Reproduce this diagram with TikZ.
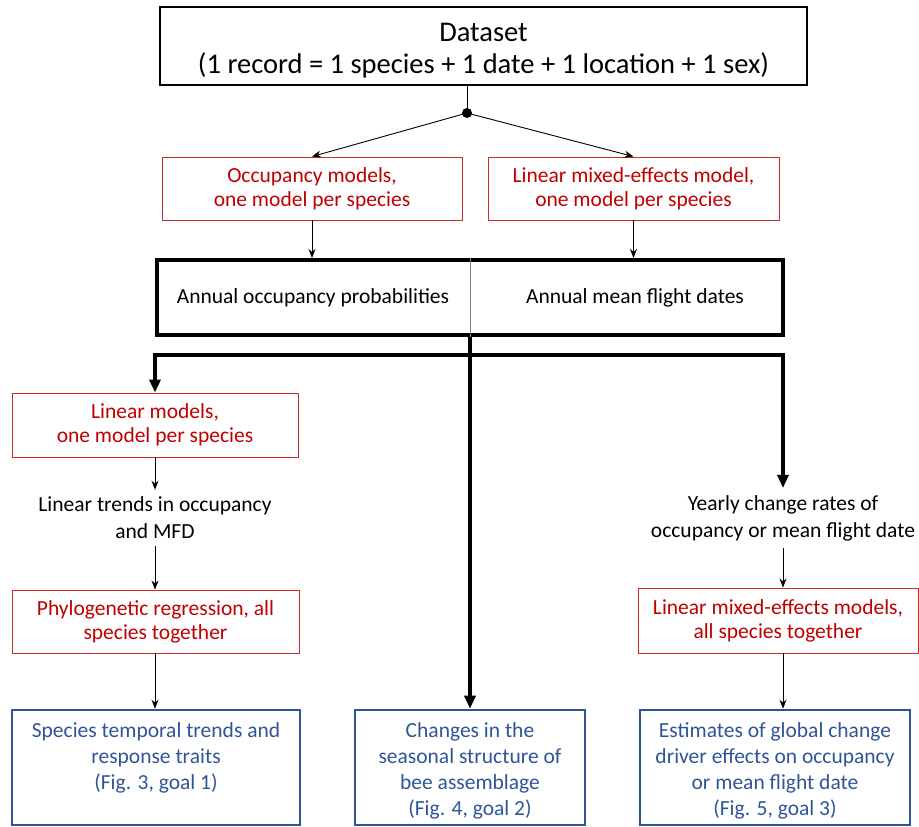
\documentclass[tikz,border=0pt]{standalone}
\usepackage{fontspec}
\setmainfont{Carlito}
\usetikzlibrary{arrows.meta}
\definecolor{myred}{HTML}{C00000}
\definecolor{boxred}{HTML}{D02B2B}
\definecolor{myblue}{HTML}{2F5597}
\begin{document}
\begin{tikzpicture}[x=1pt,y=-1pt,
  redbox/.style={draw=boxred, line width=0.9pt, text=myred, align=center,
    font=\fontsize{21.5}{24}\selectfont, inner sep=0pt},
  plain/.style={align=center, font=\fontsize{21.5}{27}\selectfont, inner sep=7pt},
  bluebox/.style={draw=myblue, line width=2.6pt, inner sep=0pt, minimum height=115pt},
  bluetext/.style={text=myblue, align=center, font=\fontsize{21.5}{26}\selectfont, inner sep=0pt, anchor=north},
  thinarr/.style={line width=0.9pt, -{Stealth[length=9pt,width=7pt]}},
  thickarr/.style={line width=3.6pt, -{Triangle[length=13pt,width=11pt]}},
  thickline/.style={line width=3.6pt}]
\useasboundingbox (0,0) rectangle (919,827);
% top
\node[draw, line width=1.2pt, minimum width=647pt, minimum height=78pt, inner sep=0pt] (data) at (483.5,46) {};
\node[align=center, font=\fontsize{28.5}{32}\selectfont, inner sep=0pt] (datat) at (483.5,51) {Dataset\\(1 record = 1 species + 1 date + 1 location + 1 sex)};
\coordinate (dot) at (467,113);
\fill (dot) circle (5pt);
\node[redbox, minimum width=300pt, minimum height=63pt] (occ) at (312,188.5) {Occupancy models,\\one model per species};
\node[redbox, minimum width=291pt, minimum height=63pt] (lme) at (633.5,188.5) {Linear mixed-effects model,\\one model per species};
\draw[line width=1pt] (data.south -| dot) -- (dot);
\draw[thinarr] (dot) -- (occ.north);
\draw[thinarr] (dot) -- (lme.north);
% annual box
\node[draw, line width=4pt, minimum width=626pt, minimum height=75pt, inner sep=0pt] (annual) at (470,297.5) {};
\draw[gray, line width=0.8pt] (annual.north) -- (annual.south);
\node[font=\fontsize{21.5}{24}\selectfont] (aop) at (313,298) {Annual occupancy probabilities};
\node[font=\fontsize{21.5}{24}\selectfont] (amfd) at (635,298) {Annual mean flight dates};
\draw[thinarr] (occ.south) -- (occ.south |- annual.north);
\draw[thinarr] (lme.south) -- (lme.south |- annual.north);
% left column
\node[redbox, minimum width=286pt, minimum height=64pt] (lm) at (155,425) {Linear models,\\one model per species};
\node[plain] (trend) at (155,518) {Linear trends in occupancy\\and MFD};
\node[redbox, minimum width=287pt, minimum height=63pt] (phylo) at (155.5,621.5) {Phylogenetic regression, all\\species together};
\node[bluebox, minimum width=288pt] (b1) at (156,767.5) {};
\node[bluetext] (b1t) at (156,722) {Species temporal trends and\\response traits\\(Fig. 3, goal 1)};
% middle
\node[bluebox, minimum width=230pt] (b2) at (470,767.5) {};
\node[bluetext] (b2t) at (470,722) {Changes in the\\seasonal structure of\\bee assemblage\\(Fig. 4, goal 2)};
% right column
\node[plain] (yearly) at (783,518) {Yearly change rates of\\occupancy or mean flight date};
\node[redbox, minimum width=280pt, minimum height=65pt] (lmeall) at (778,620.5) {Linear mixed-effects models,\\all species together};
\node[bluebox, minimum width=270pt] (b3) at (775,767.5) {};
\node[bluetext] (b3t) at (775,722) {Estimates of global change\\driver effects on occupancy\\or mean flight date\\(Fig. 5, goal 3)};
% thick connectors
\coordinate (j) at (470,355);
\draw[thickline] (annual.south) -- (j);
\draw[thickarr] (j) -| (lm.north);
\draw[thickarr] (j) -| (yearly.north);
\draw[thickarr] (j) -- (b2.north);
% thin arrows
\draw[thinarr] (lm.south) -- (trend.north);
\draw[thinarr] (trend.south) -- (trend.south |- phylo.north);
\draw[thinarr] (trend.south |- phylo.south) -- (trend.south |- b1.north);
\draw[thinarr] (yearly.south) -- (yearly.south |- lmeall.north);
\draw[thinarr] (yearly.south |- lmeall.south) -- (yearly.south |- b3.north);
\end{tikzpicture}
\end{document}
